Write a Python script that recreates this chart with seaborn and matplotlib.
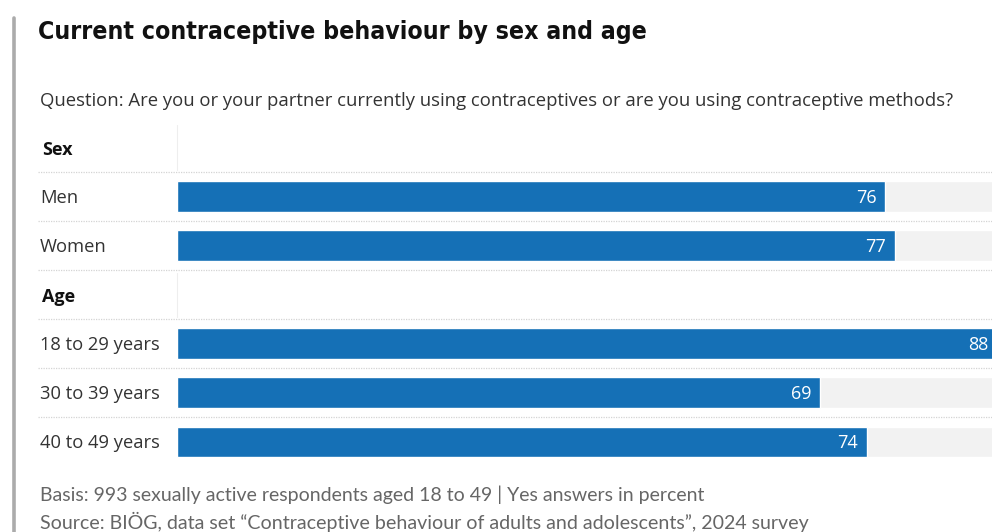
import matplotlib
matplotlib.use("Agg")
import matplotlib.pyplot as plt
import matplotlib.transforms as mtransforms
from matplotlib.lines import Line2D
import seaborn as sns
import pandas as pd

# Chart content
title = "Current contraceptive behaviour by sex and age"
question = ("Question: Are you or your partner currently using contraceptives "
            "or are you using contraceptive methods?")
rows = ["Sex", "Men", "Women", "Age", "18 to 29 years", "30 to 39 years", "40 to 49 years"]
headers = ["Sex", "Age"]
groups = ["Men", "Women", "18 to 29 years", "30 to 39 years", "40 to 49 years"]
values = [76, 77, 88, 69, 74]
scale_max = 100
notes = [
    "Basis: 993 sexually active respondents aged 18 to 49 | Yes answers in percent",
    "Source: BIÖG, data set \u201cContraceptive behaviour of adults and adolescents\u201d, 2024 survey",
]

BLUE = "#1570b6"
TRACK = "#f2f2f2"
BODY_FONT = ["Open Sans", "DejaVu Sans"]
NOTE_FONT = ["Lato", "DejaVu Sans"]
TITLE_FONT = ["DejaVu Sans Condensed", "Liberation Sans Narrow", "DejaVu Sans"]

sns.set_theme(style="white")
plt.rcParams["font.family"] = BODY_FONT

W, H = 992, 532
fig = plt.figure(figsize=(W / 100, H / 100), dpi=100)

def px(x, y):
    return x / W, 1 - y / H

# Plot area: bars start at x=177 px; the scale runs past the right edge
ax_left, ax_top, ax_bottom = 177, 123, 466.5
px_per_unit = 9.32
ax_right = W
ax = fig.add_axes([ax_left / W, 1 - ax_bottom / H,
                   (ax_right - ax_left) / W, (ax_bottom - ax_top) / H])

df = pd.DataFrame({"group": groups, "value": values})
df["track"] = scale_max

sns.barplot(data=df, y="group", x="track", order=rows, orient="h",
            color=TRACK, width=0.63, ax=ax, saturation=1)
sns.barplot(data=df, y="group", x="value", order=rows, orient="h",
            color=BLUE, width=0.63, ax=ax, saturation=1)

ax.set_xlim(0, (ax_right - ax_left) / px_per_unit)
ax.set_ylim(len(rows) - 0.5, -0.5)
ax.set_xlabel("")
ax.set_ylabel("")
ax.set_xticks([])
ax.set_yticks([])
for s in ax.spines.values():
    s.set_visible(False)
ax.patch.set_alpha(0)

# Value labels inside bar ends
for g, v in zip(groups, values):
    ax.text(v - 0.9, rows.index(g) + 0.02, f"{v}", ha="right", va="center",
            color="white", fontsize=13)

# Row labels on the left
lab_tr = mtransforms.blended_transform_factory(fig.transFigure, ax.transData)
for i, r in enumerate(rows):
    if r in headers:
        ax.text(42 / W, i + 0.05, r, transform=lab_tr, ha="left", va="center",
                fontsize=13, fontweight="bold", color="#111111")
    else:
        ax.text(40 / W, i + 0.03, r, transform=lab_tr, ha="left", va="center",
                fontsize=13.2, color="#333333")

# Dotted separators between rows
for i in range(len(rows) - 1):
    fig.add_artist(Line2D([38 / W, 1.0], [i + 0.5, i + 0.5], transform=lab_tr,
                          color="#d4d4d4", lw=0.9, ls=(0, (1, 1))))

# Faint divider next to the header rows
for h in headers:
    i = rows.index(h)
    fig.add_artist(Line2D([ax_left / W, ax_left / W], [i - 0.45, i + 0.45],
                          transform=lab_tr, color="#eeeeee", lw=0.8))

# Left accent rule
fig.add_artist(Line2D([13.5 / W, 13.5 / W], [px(0, 18)[1], 0],
                      color="#ababab", lw=2.6))

fig.text(*px(38, 32), title, ha="left", va="center", fontsize=17.8,
         fontweight="bold", fontstretch="condensed", family=TITLE_FONT,
         color="#111111")
fig.text(*px(40, 101), question, ha="left", va="center", fontsize=13.35,
         color="#333333")
fig.text(*px(40, 495), notes[0], ha="left", va="center", fontsize=14,
         family=NOTE_FONT, color="#666666")
fig.text(*px(40, 522), notes[1], ha="left", va="center", fontsize=14.1,
         family=NOTE_FONT, color="#666666")

fig.savefig("out.png", dpi=100, facecolor="white")
